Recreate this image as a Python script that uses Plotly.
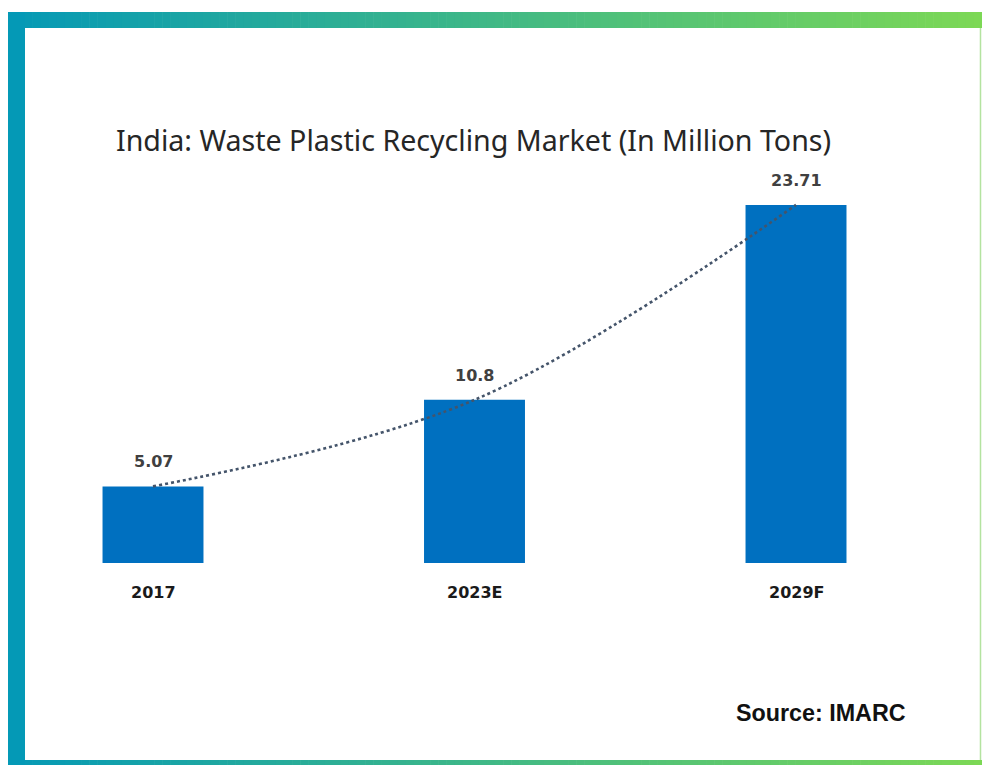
import plotly.graph_objects as go

# Market size data (million tons)
categories = ["2017", "2023E", "2029F"]
values = [5.07, 10.8, 23.71]
value_labels = ["5.07", "10.8", "23.71"]

W, H = 982, 765


def px(x):
    return x / W


def py(y):
    return 1 - y / H


BAR_COLOR = "#0070C0"
TREND_COLOR = "#44546A"

fig = go.Figure()

fig.add_trace(go.Bar(
    x=categories, y=values, width=0.314,
    marker=dict(color=BAR_COLOR, line=dict(width=0)),
    hoverinfo="skip",
))

# Dotted trend curve through the bar tops
fig.add_trace(go.Scatter(
    x=categories, y=values, mode="lines",
    line=dict(color=TREND_COLOR, width=2.6, dash="dot", shape="spline", smoothing=1.0),
    hoverinfo="skip",
))

annotations = []
# category axis: place labels by category index
for i, (cat, v, lab) in enumerate(zip(categories, values, value_labels)):
    annotations.append(dict(
        x=i, y=v, xref="x", yref="y", text=lab, showarrow=False,
        yanchor="bottom", yshift=13,
        font=dict(family="DejaVu Sans", size=16, color="#404040", weight="bold"),
    ))
    annotations.append(dict(
        x=i, y=0, xref="x", yref="y", text=cat, showarrow=False,
        yanchor="top", yshift=-18,
        font=dict(family="DejaVu Sans", size=16, color="#1a1a1a", weight="bold"),
    ))

annotations.append(dict(
    x=px(473), y=py(139), xref="paper", yref="paper",
    text="India: Waste Plastic Recycling Market (In Million Tons)",
    showarrow=False, xanchor="center", yanchor="middle",
    font=dict(family="Noto Sans", size=28.6, color="#262626"),
))
annotations.append(dict(
    x=px(821), y=py(713), xref="paper", yref="paper",
    text="Source: IMARC", showarrow=False, xanchor="center", yanchor="middle",
    font=dict(family="Liberation Sans", size=23.3, color="#111111", weight="bold"),
))

# Frame: gradient bands along top and bottom, solid band on the left
shapes = []
c0 = (4, 153, 182)
c1 = (125, 216, 85)
x_start, x_end = 8, 982
n = 120
for i in range(n):
    t = (i + 0.5) / n
    col = "rgb({},{},{})".format(*[round(a + (b - a) * t) for a, b in zip(c0, c1)])
    xa = x_start + (x_end - x_start) * i / n
    xb = x_start + (x_end - x_start) * (i + 1) / n + 0.6
    shapes.append(dict(type="rect", xref="paper", yref="paper",
                       x0=px(xa), x1=px(min(xb, W)), y0=py(28), y1=py(12),
                       fillcolor=col, line=dict(width=0), layer="above"))
    shapes.append(dict(type="rect", xref="paper", yref="paper",
                       x0=px(xa), x1=px(min(xb, W)), y0=py(765), y1=py(760),
                       fillcolor=col, line=dict(width=0), layer="above"))
shapes.append(dict(type="rect", xref="paper", yref="paper",
                   x0=px(8), x1=px(25), y0=py(765), y1=py(12),
                   fillcolor="rgb(4,153,182)", line=dict(width=0), layer="above"))
shapes.append(dict(type="line", xref="paper", yref="paper",
                   x0=px(980.5), x1=px(980.5), y0=py(760), y1=py(28),
                   line=dict(color="#b4e3a0", width=1.5), layer="above"))

fig.update_layout(
    width=W, height=H,
    margin=dict(l=0, r=0, t=0, b=0),
    paper_bgcolor="white", plot_bgcolor="white",
    showlegend=False,
    xaxis=dict(type="category", range=[-0.4759, 2.5785], visible=False,
               showgrid=False, zeroline=False, fixedrange=True, domain=[0, 1]),
    yaxis=dict(range=[-13.38, 37.28], visible=False, showgrid=False,
               zeroline=False, fixedrange=True, domain=[0, 1]),
    annotations=annotations,
    shapes=shapes,
)

fig.write_html("out.html")
